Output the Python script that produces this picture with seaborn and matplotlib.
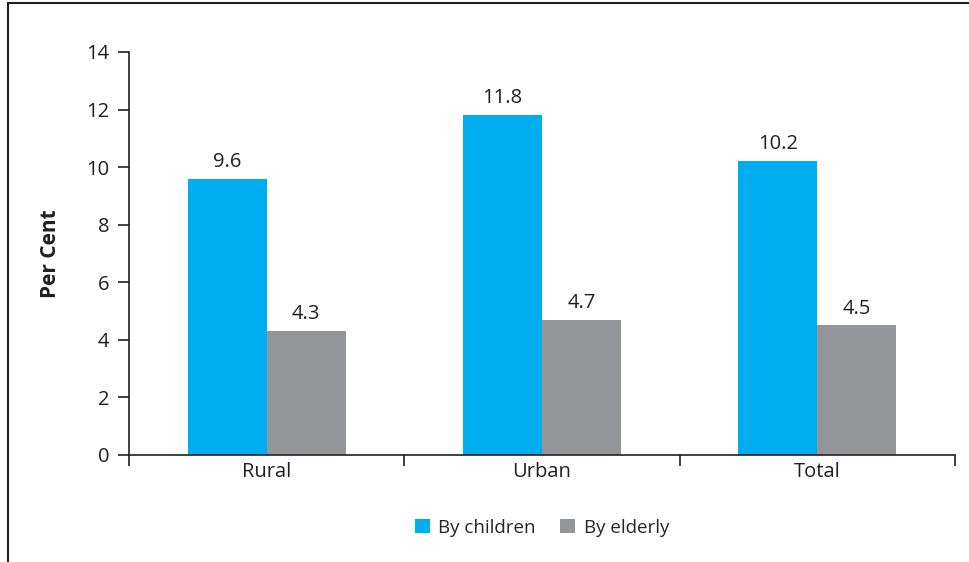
import matplotlib
matplotlib.use("Agg")
import matplotlib.pyplot as plt
from matplotlib.lines import Line2D
import seaborn as sns
import pandas as pd

areas = ["Rural", "Urban", "Total"]
by_children = [9.6, 11.8, 10.2]
by_elderly = [4.3, 4.7, 4.5]
series_names = ["By children", "By elderly"]
y_ticks = [0, 2, 4, 6, 8, 10, 12, 14]

df = pd.DataFrame({
    "Area": areas * 2,
    "Value": by_children + by_elderly,
    "Series": [series_names[0]] * 3 + [series_names[1]] * 3,
})

sns.set_theme(style="white")
plt.rcParams["font.family"] = ["Open Sans", "DejaVu Sans"]

fig = plt.figure(figsize=(9.7, 5.62), dpi=100)
ax = fig.add_axes([0.133, 0.1904, 0.8515, 0.7171])

palette = {"By children": "#00AEEF", "By elderly": "#939598"}
sns.barplot(data=df, x="Area", y="Value", hue="Series", order=areas,
            hue_order=series_names, palette=palette, width=0.575,
            saturation=1, ax=ax, legend=True, errorbar=None, linewidth=0)

for cont in ax.containers:
    ax.bar_label(cont, labels=[f"{v:.1f}" for v in cont.datavalues],
                 padding=5, fontsize=14.5, color="#231f20")

ax.set_xlim(-0.5, 2.5)
ax.set_ylim(0, 14)
ax.set_yticks(y_ticks)
ax.set_yticklabels([str(t) for t in y_ticks], fontsize=14.5, color="#231f20")
ax.set_xticks([0, 1, 2])
ax.set_xticklabels(areas, fontsize=14.5, color="#231f20")
ax.tick_params(axis="x", which="major", length=0, pad=5)
ax.set_xticks([-0.5, 0.5, 1.5, 2.5], minor=True)
ax.tick_params(axis="x", which="minor", length=8, width=1.2, color="#231f20",
               direction="out", bottom=True)
ax.tick_params(axis="y", length=8, width=1.2, color="#231f20",
               direction="out", left=True, pad=6)
ax.set_xlabel("")
ax.set_ylabel("Per Cent", fontsize=15, fontweight="bold", color="#231f20",
              labelpad=18)

for side in ["top", "right"]:
    ax.spines[side].set_visible(False)
for side in ["left", "bottom"]:
    ax.spines[side].set_color("#231f20")
    ax.spines[side].set_linewidth(1.2)

handles, labels = ax.get_legend_handles_labels()
ax.legend(handles, labels, loc="center", bbox_to_anchor=(0.5, -0.18),
          ncol=2, frameon=False, fontsize=13.5, handlelength=0.8,
          handleheight=0.8, handletextpad=0.45, columnspacing=1.3)

# outer frame lines along top and left of the figure
fig.add_artist(Line2D([0.0082, 1.0], [0.9938, 0.9938], transform=fig.transFigure,
                      color="#231f20", linewidth=1.5))
fig.add_artist(Line2D([0.0082, 0.0082], [0.0, 0.9938], transform=fig.transFigure,
                      color="#231f20", linewidth=1.5))

fig.savefig("out.png", dpi=100, facecolor="white")
